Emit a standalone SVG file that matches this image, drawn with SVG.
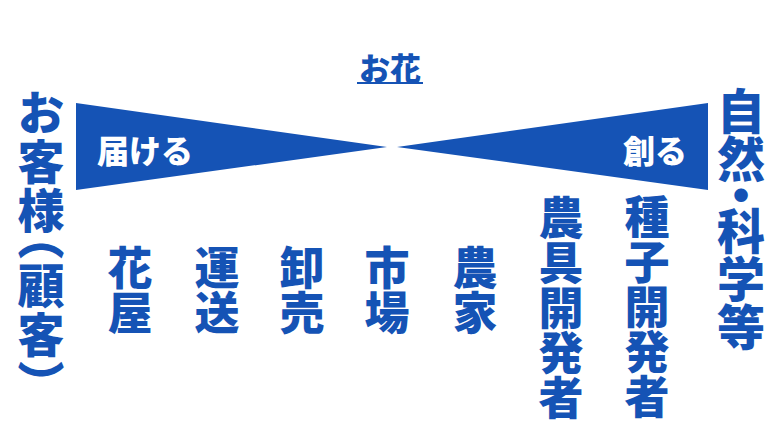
<svg xmlns="http://www.w3.org/2000/svg" width="780" height="437" viewBox="0 0 780 437">
<style>
.t{font-family:"Noto Sans CJK JP","Noto Sans CJK SC",sans-serif;font-weight:900;fill:#1553b5}
.v{writing-mode:vertical-rl;font-feature-settings:"vhal" 1}
.w{font-family:"Noto Sans CJK JP","Noto Sans CJK SC",sans-serif;font-weight:900;fill:#ffffff}
.tri{fill:#1553b5}
</style>
<rect width="780" height="437" fill="#ffffff"/>
<g id="title">
<text class="t" x="390" y="66" font-size="31" text-anchor="middle" dominant-baseline="central">お花</text>
<line x1="357" y1="83" x2="423" y2="83" stroke="#1553b5" stroke-width="2"/>
</g>
<g id="connectors">
<polygon id="deliver" class="tri" points="76,103 76,190 387,147"/>
<polygon id="create" class="tri" points="708,103 708,190 397,147"/>
</g>
<g id="label-deliver"><text class="w" x="97" y="149" font-size="32" dominant-baseline="central">届ける</text></g>
<g id="label-create"><text class="w" x="687" y="149" font-size="32" text-anchor="end" dominant-baseline="central">創る</text></g>
<g id="customer"><text class="t v" x="41" y="89" font-size="47" letter-spacing="2">お客様（顧客）</text></g>
<g id="nature"><text class="t v" x="741" y="87" font-size="48">自然・科学等</text></g>
<g id="florist"><text class="t v" x="130" y="245" font-size="45">花屋</text></g>
<g id="transport"><text class="t v" x="217" y="245" font-size="45">運送</text></g>
<g id="wholesale"><text class="t v" x="302" y="245" font-size="45">卸売</text></g>
<g id="market"><text class="t v" x="387" y="245" font-size="45">市場</text></g>
<g id="farmer"><text class="t v" x="475" y="245" font-size="45">農家</text></g>
<g id="tooldev"><text class="t v" x="561" y="195" font-size="45">農具開発者</text></g>
<g id="seeddev"><text class="t v" x="647" y="194" font-size="45">種子開発者</text></g>
</svg>
